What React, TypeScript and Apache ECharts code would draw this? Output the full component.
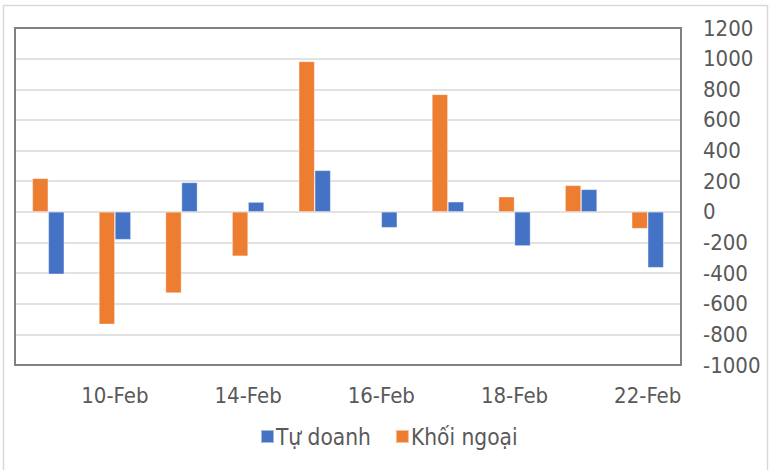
import React, { useEffect, useRef } from "react";
import * as echarts from "echarts";

const categories = ["9-Feb", "10-Feb", "11-Feb", "14-Feb", "15-Feb", "16-Feb", "17-Feb", "18-Feb", "21-Feb", "22-Feb"];
const khoiNgoai = [219, -735, -530, -290, 982, -6, 767, 99, 173, -110];
const tuDoanh = [-408, -182, 192, 64, 271, -104, 66, -223, 147, -365];

const FONT = "'DejaVu Sans Condensed', 'DejaVu Sans', sans-serif";
const TEXT = "#595959";

export default function App() {
  const ref = useRef<HTMLDivElement>(null);
  useEffect(() => {
    if (!ref.current) return;
    const chart = echarts.init(ref.current, undefined, { renderer: "svg" });
    chart.setOption({
      animation: false,
      backgroundColor: "#ffffff",
      textStyle: { fontFamily: FONT, color: TEXT },
      graphic: [
        {
          type: "rect",
          shape: { x: 3.5, y: 5.5, width: 764, height: 470 },
          style: { fill: "none", stroke: "#d9d9d9", lineWidth: 1.5 },
          silent: true,
        },
      ],
      grid: {
        left: 15,
        top: 28,
        right: 88,
        bottom: 105,
        show: true,
        borderColor: "#808080",
        borderWidth: 2,
        backgroundColor: "transparent",
        z: 3,
      },
      legend: {
        data: ["Tự doanh", "Khối ngoại"],
        left: 255,
        top: 420,
        icon: "rect",
        itemWidth: 13,
        itemHeight: 13,
        itemGap: 24,
        textStyle: { fontFamily: FONT, fontSize: 22.5, color: TEXT, padding: [0, 0, 0, -3] },
      },
      xAxis: {
        type: "category",
        data: categories,
        axisLine: { show: false },
        axisTick: { show: false },
        axisLabel: {
          interval: (index: number) => index % 2 === 1,
          margin: 19,
          fontSize: 22,
          color: TEXT,
          fontFamily: FONT,
        },
      },
      yAxis: {
        type: "value",
        position: "right",
        min: -1000,
        max: 1200,
        interval: 200,
        axisLine: { show: false },
        axisTick: { show: false },
        axisLabel: { margin: 22, fontSize: 22, color: TEXT, fontFamily: FONT, formatter: (v: number) => String(v) },
        splitLine: { lineStyle: { color: "#d9d9d9", width: 1.5 } },
      },
      series: [
        {
          name: "Khối ngoại",
          type: "bar",
          data: khoiNgoai,
          barWidth: 16,
          barGap: "0%",
          itemStyle: { color: "#ED7D31", borderColor: "rgba(255,255,255,0.5)", borderWidth: 0.7 },
        },
        {
          name: "Tự doanh",
          type: "bar",
          data: tuDoanh,
          barWidth: 16,
          barGap: "0%",
          itemStyle: { color: "#4472C4", borderColor: "rgba(255,255,255,0.5)", borderWidth: 0.7 },
        },
      ],
    });
    return () => chart.dispose();
  }, []);
  return (
    <div style={{ position: "absolute", left: 0, top: 0, width: 769, height: 470 }}>
      <div ref={ref} style={{ width: 769, height: 470 }} />
    </div>
  );
}
